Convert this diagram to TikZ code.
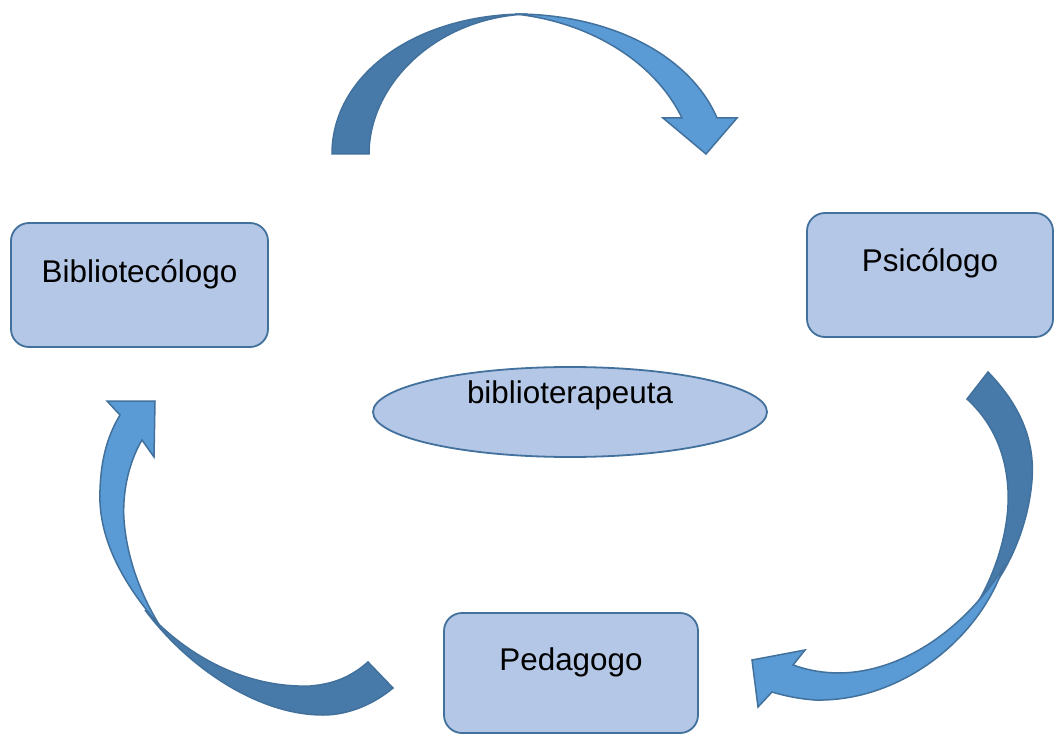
\documentclass[tikz,border=0pt]{standalone}
\usepackage{fontspec}
\setmainfont{Liberation Sans}
\usetikzlibrary{shapes.geometric}
\definecolor{boxfill}{HTML}{B4C7E7}
\definecolor{edge}{HTML}{41719C}
\definecolor{darkarrow}{HTML}{487AA9}
\definecolor{lightarrow}{HTML}{5B9BD5}
\tikzset{
  role/.style={draw=edge, line width=1.8pt, fill=boxfill, rounded corners=18pt,
    inner sep=0pt, font=\fontsize{31.4}{36}\selectfont},
  center/.style={draw=edge, line width=1.8pt, fill=boxfill, ellipse,
    inner sep=0pt, font=\fontsize{31.4}{36}\selectfont},
  backband/.style={draw=edge, line width=1.5pt, fill=darkarrow, line join=miter},
  frontband/.style={draw=edge, line width=1.5pt, fill=lightarrow, line join=miter},
}
\begin{document}
\begin{tikzpicture}[x={(1pt,0)}, y={(0,-1pt)}]
\useasboundingbox (0,0) rectangle (1054,735);
\fill[white] (0,0) rectangle (1054,735);

% boxes
\node[role, minimum width=257pt, minimum height=124pt, text height=22pt, text depth=28pt]
  (bib) at (139.5,285) {Bibliotecólogo};
\node[role, minimum width=246pt, minimum height=124pt, text height=22pt, text depth=30pt]
  (psi) at (930,275) {Psicólogo};
\node[role, minimum width=254pt, minimum height=120pt, text height=22pt, text depth=28pt]
  (ped) at (571,673) {Pedagogo};
\node[center, minimum width=394pt, minimum height=90pt, text height=22pt, text depth=40pt]
  (bt) at (570,412) {biblioterapeuta};

% top arrow
\draw[backband] (332,154) .. controls (332,75) and (415,14) .. (527,14)
  .. controls (435,18) and (369,85) .. (369,154) -- cycle;
\draw[frontband] (515,14) .. controls (610,14) and (690,55) .. (717,118)
  -- (737,118) -- (706,154) -- (663,118) -- (682,118)
  .. controls (655,62) and (590,22) .. (515,14) -- cycle;

% right arrow
\draw[backband] (988,372) .. controls (1020,405) and (1035,440) .. (1032,480)
  .. controls (1028,530) and (1005,580) .. (975,607)
  .. controls (995,575) and (1010,530) .. (1008,490)
  .. controls (1006,450) and (990,420) .. (967,399) -- cycle;
\draw[frontband] (1003,568) .. controls (978,640) and (900,702) .. (815,700)
  .. controls (800,699) and (785,696) .. (772,692) -- (758,707) -- (752,660)
  -- (805,650) -- (793,665) .. controls (810,671) and (825,673) .. (840,673)
  .. controls (900,672) and (962,632) .. (1003,568) -- cycle;

% left arrow
\draw[backband] (145,610) .. controls (190,670) and (260,715) .. (323,715)
  .. controls (350,715) and (375,703) .. (393,688) -- (368,662)
  .. controls (352,676) and (335,684) .. (310,686)
  .. controls (250,688) and (190,660) .. (145,610) -- cycle;
\draw[frontband] (160,626) .. controls (115,575) and (98,530) .. (100,490)
  .. controls (101,458) and (108,435) .. (120,415) -- (107,401) -- (155,401)
  -- (154,457) -- (142,440) .. controls (130,460) and (122,490) .. (124,520)
  .. controls (127,560) and (142,597) .. (160,626) -- cycle;
\end{tikzpicture}
\end{document}
